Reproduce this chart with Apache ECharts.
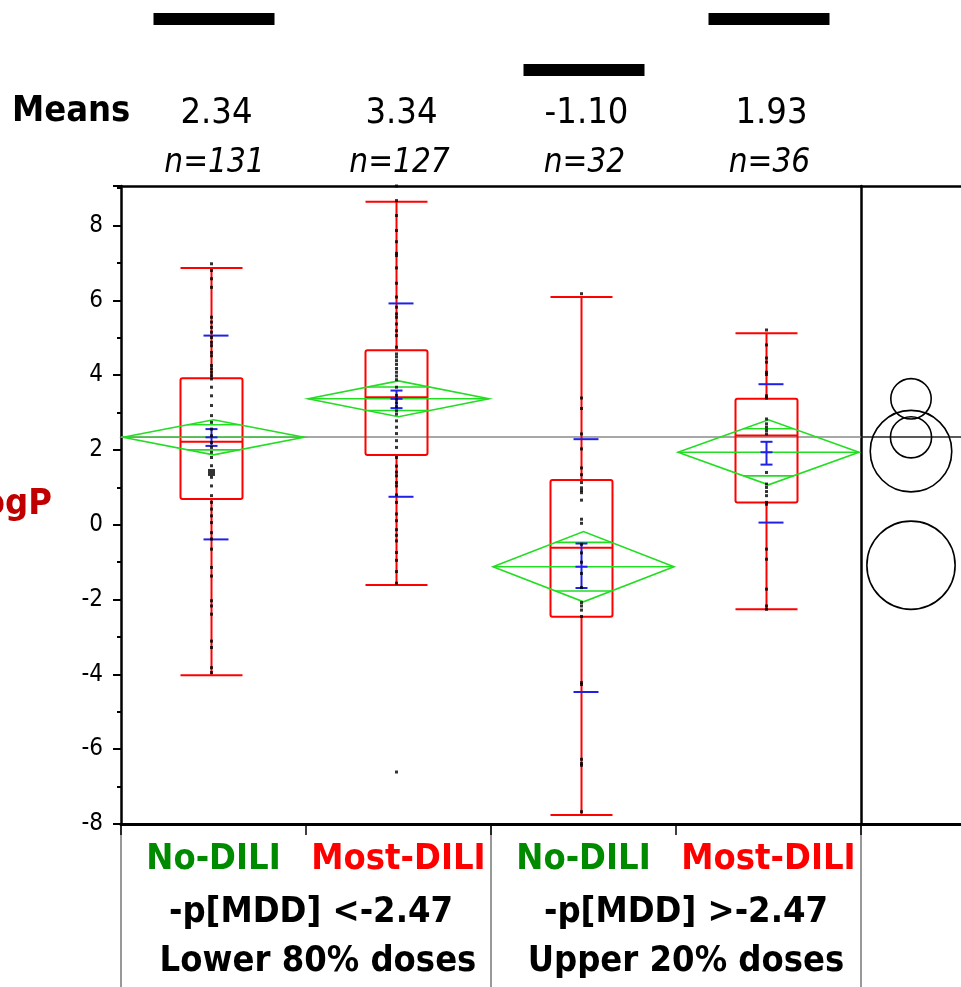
<!DOCTYPE html>
<html><head><meta charset="utf-8">
<script src="https://cdn.jsdelivr.net/npm/echarts@6/dist/echarts.min.js"></script>
<style>html,body{margin:0;padding:0;background:#fff;}#c{width:961px;height:987px;}</style>
</head><body><div id="c"></div>
<script>
// ---------- data ----------
const categories = ['No-DILI', 'Most-DILI', 'No-DILI', 'Most-DILI'];
const meanLabels = ['2.34', '3.34', '-1.10', '1.93'];
const nLabels = ['n=131', 'n=127', 'n=32', 'n=36'];
const groupLine1 = ['-p[MDD] <-2.47', '-p[MDD] >-2.47'];
const groupLine2 = ['Lower 80% doses', 'Upper 20% doses'];
const yTickValues = [-8, -6, -4, -2, 0, 2, 4, 6, 8];
const yMax = 9.06;

// box plot: [min whisker, Q1, median, Q3, max whisker]
const boxStats = [
  [-4.02, 0.69, 2.22, 3.92, 6.87],
  [-1.61, 1.87, 3.41, 4.67, 8.64],
  [-7.76, -2.46, -0.61, 1.20, 6.09],
  [-2.26, 0.60, 2.39, 3.37, 5.12]
];
// means diamonds: mean, 95% CI half width, overlap mark half distance
const diamondMean = [2.34, 3.37, -1.12, 1.94];
const diamondCI = [0.47, 0.48, 0.94, 0.87];
const overlapMark = [0.335, 0.315, 0.65, 0.63];
// blue: mean error bars (SE) and std dev lines
const seLow = [2.11, 3.12, -1.69, 1.61];
const seHigh = [2.56, 3.59, -0.50, 2.22];
const sdLow = [-0.39, 0.75, -4.47, 0.06];
const sdHigh = [5.06, 5.92, 2.29, 3.76];
const grandMean = 2.35;
// comparison circles: centre and radius (logP units)
const circleCenter = [2.34, 3.37, -1.08, 1.97];
const circleRadius = [0.55, 0.54, 1.18, 1.09];
// significance bars above the plot: [category index, level]
const sigBars = [[0, 0], [2, 1], [3, 0]];

// individual points
const pts1 = [6.98, 6.80, 6.58, 6.35, 5.55, 5.42, 5.28, 5.15, 5.01, 4.88, 4.79, 4.61, 4.52, 4.26, 4.17, 4.08, 3.99, 3.90, 3.68, 3.45, 3.19, 2.92, 2.74, 2.56, 2.38, 2.20, 2.07, 1.94, 1.80, 1.58, 1.27, 1.04, 0.78, 0.60, 0.42, 0.24, 0.06, -0.21, -0.38, -0.65, -1.14, -1.37, -2.03, -2.17, -2.39, -3.11, -3.28, -3.82, -3.95];
const heavyPts1 = [1.40];
const pts2 = [9.06, 8.67, 8.27, 7.87, 7.57, 7.26, 7.20, 6.87, 6.46, 6.09, 5.82, 5.64, 5.55, 5.37, 5.19, 5.06, 4.75, 4.57, 4.49, 4.39, 4.29, 4.18, 4.08, 3.98, 3.88, 3.68, 3.46, 3.36, 3.26, 3.16, 3.05, 2.96, 2.78, 2.61, 2.44, 2.25, 2.07, 1.80, 1.57, 1.41, 1.31, 1.13, 1.04, 0.80, 0.60, 0.29, 0.11, -0.13, -0.28, -0.43, -0.74, -0.95, -1.25, -1.56, -6.61];
const pts3 = [6.18, 3.39, 3.11, 2.43, 2.03, 1.52, 1.34, 1.13, 0.99, 0.92, 0.86, 0.66, 0.15, 0.04, -0.52, -0.75, -1.00, -1.30, -1.68, -2.08, -2.17, -2.28, -2.45, -4.22, -4.27, -6.27, -6.38, -6.43, -7.67];
const pts4 = [5.21, 4.81, 4.46, 4.35, 4.08, 4.02, 3.45, 3.39, 2.83, 2.70, 2.61, 2.52, 2.43, 1.40, 1.09, 1.00, 0.89, 0.78, 0.60, 0.55, -0.65, -0.92, -1.72, -2.17, -2.26];

// ---------- layout / style ----------
const FONT = '"DejaVu Sans Condensed","DejaVu Sans",sans-serif';
const GL = 121, GT = 186, GW = 740, GH = 638, PW = 100;
const RED = '#ff0000', GREEN = '#22dd22', BLUE = '#2020e6';

const allPts = [pts1, pts2, pts3, pts4];
const pointData = [];
allPts.forEach((arr, i) => arr.forEach(v => pointData.push([i, v])));

const chart = echarts.init(document.getElementById('c'));

function renderBox(params, api) {
  const i = api.value(0);
  const c = v => api.coord([i, v]);
  const xc = c(0)[0] - 2, hw = 31;
  const yMin = c(api.value(1))[1], yQ1 = c(api.value(2))[1], yMed = c(api.value(3))[1],
        yQ3 = c(api.value(4))[1], yMx = c(api.value(5))[1];
  const st = { stroke: RED, lineWidth: 2 };
  return { type: 'group', children: [
    { type: 'rect', shape: { x: xc - hw, y: yQ3, width: 2 * hw, height: yQ1 - yQ3, r: 2 }, style: { stroke: RED, fill: 'none', lineWidth: 2 } },
    { type: 'line', shape: { x1: xc - hw, y1: yMed, x2: xc + hw, y2: yMed }, style: st },
    { type: 'line', shape: { x1: xc, y1: yQ3, x2: xc, y2: yMx }, style: st },
    { type: 'line', shape: { x1: xc, y1: yQ1, x2: xc, y2: yMin }, style: st },
    { type: 'line', shape: { x1: xc - hw, y1: yMx, x2: xc + hw, y2: yMx }, style: st },
    { type: 'line', shape: { x1: xc - hw, y1: yMin, x2: xc + hw, y2: yMin }, style: st }
  ]};
}

function renderDiamond(params, api) {
  const i = api.value(0), m = api.value(1), ci = api.value(2), ov = api.value(3);
  const xc = api.coord([i, m])[0];
  const hw = api.size([1, 0])[0] / 2 - 2;
  const y = v => api.coord([i, v])[1];
  const yM = y(m), yT = y(m + ci), yB = y(m - ci);
  const ow = hw * (1 - ov / ci);
  const st = { stroke: GREEN, lineWidth: 1.6 };
  return { type: 'group', children: [
    { type: 'polygon', shape: { points: [[xc - hw, yM], [xc, yT], [xc + hw, yM], [xc, yB]] }, style: { stroke: GREEN, fill: 'none', lineWidth: 1.6 } },
    { type: 'line', shape: { x1: xc - hw, y1: yM, x2: xc + hw, y2: yM }, style: st },
    { type: 'line', shape: { x1: xc - ow, y1: y(m + ov), x2: xc + ow, y2: y(m + ov) }, style: st },
    { type: 'line', shape: { x1: xc - ow, y1: y(m - ov), x2: xc + ow, y2: y(m - ov) }, style: st }
  ]};
}

function renderBlue(params, api) {
  const i = api.value(0);
  const y = v => api.coord([i, api.value(v)])[1];
  const xc = api.coord([i, 0])[0] - 2;
  const st = { stroke: BLUE, lineWidth: 2 };
  const yM = y(1), ySL = y(2), ySH = y(3), yDL = y(4), yDH = y(5);
  return { type: 'group', children: [
    { type: 'line', shape: { x1: xc, y1: ySL, x2: xc, y2: ySH }, style: st },
    { type: 'line', shape: { x1: xc - 6, y1: ySL, x2: xc + 6, y2: ySL }, style: st },
    { type: 'line', shape: { x1: xc - 6, y1: ySH, x2: xc + 6, y2: ySH }, style: st },
    { type: 'line', shape: { x1: xc - 6, y1: yM, x2: xc + 6, y2: yM }, style: st },
    { type: 'line', shape: { x1: xc - 8, y1: yDL, x2: xc + 17, y2: yDL }, style: st },
    { type: 'line', shape: { x1: xc - 8, y1: yDH, x2: xc + 17, y2: yDH }, style: st }
  ]};
}

function renderMeanLine(color) {
  return function (params, api) {
    const y = api.coord([0, api.value(1)])[1];
    const cs = params.coordSys;
    return { type: 'line', shape: { x1: cs.x, y1: y, x2: cs.x + cs.width, y2: y }, style: { stroke: color, lineWidth: 1.5 } };
  };
}

function renderCircle(params, api) {
  const p = api.coord([0.5, api.value(1)]);
  const r = api.size([0, api.value(2)])[1];
  return { type: 'circle', shape: { cx: p[0], cy: p[1], r: r }, style: { stroke: '#000', fill: 'none', lineWidth: 1.6 } };
}

function renderHeader(params, api) {
  const i = api.value(0);
  const xc = api.coord([i, 0])[0];
  return { type: 'group', children: [
    { type: 'text', style: { text: meanLabels[i], x: xc + 3, y: 114, align: 'center', verticalAlign: 'middle', fontSize: 36, fontFamily: FONT, fill: '#000' } },
    { type: 'text', style: { text: nLabels[i], x: xc + 1, y: 163, align: 'center', verticalAlign: 'middle', fontSize: 33, fontStyle: 'italic', fontFamily: FONT, fill: '#000' } }
  ]};
}

function renderSig(params, api) {
  const i = api.value(0), lvl = api.value(1);
  const xc = api.coord([i, 0])[0];
  return { type: 'rect', shape: { x: xc - 60, y: 13 + lvl * 51, width: 121, height: 12 }, style: { fill: '#000' } };
}

const option = {
  animation: false,
  backgroundColor: '#fff',
  grid: [
    { left: GL, top: GT, width: GW, height: GH, containLabel: false, outerBoundsMode: 'none' },
    { left: GL + GW, top: GT, width: PW, height: GH, containLabel: false, outerBoundsMode: 'none' }
  ],
  xAxis: [
    { gridIndex: 0, type: 'category', data: categories, position: 'bottom', boundaryGap: true,
      axisLine: { show: true, onZero: false, lineStyle: { color: '#000', width: 3 } },
      axisTick: { show: true, length: 11, lineStyle: { color: '#000', width: 1.5 } },
      axisLabel: { margin: 18, interval: 0,
        formatter: (v, i) => (i % 2 === 0 ? '{g|' + v + '}' : '{r|' + v + '}'),
        rich: {
          g: { color: '#008a00', fontSize: 36, fontWeight: 'bold', fontFamily: FONT },
          r: { color: '#ff0000', fontSize: 36, fontWeight: 'bold', fontFamily: FONT }
        } },
      splitLine: { show: false } },
    { gridIndex: 0, type: 'category', data: categories, position: 'top',
      axisLine: { show: true, onZero: false, lineStyle: { color: '#000', width: 2.5 } },
      axisTick: { show: false }, axisLabel: { show: false }, splitLine: { show: false } },
    { gridIndex: 1, type: 'value', min: 0, max: 1, position: 'bottom',
      axisLine: { show: true, onZero: false, lineStyle: { color: '#000', width: 3 } },
      axisTick: { show: false }, axisLabel: { show: false }, splitLine: { show: false } },
    { gridIndex: 1, type: 'value', min: 0, max: 1, position: 'top',
      axisLine: { show: true, onZero: false, lineStyle: { color: '#000', width: 2.5 } },
      axisTick: { show: false }, axisLabel: { show: false }, splitLine: { show: false } }
  ],
  yAxis: [
    { gridIndex: 0, type: 'value', min: yTickValues[0], max: yMax, interval: 2,
      name: 'logP', nameLocation: 'middle', nameRotate: 0, nameGap: 69,
      nameTextStyle: { color: '#c00000', fontSize: 36, fontWeight: 'bold', fontFamily: FONT },
      axisLine: { show: true, onZero: false, lineStyle: { color: '#000', width: 2.5 } },
      axisTick: { show: true, length: 8, lineStyle: { color: '#000', width: 2 } },
      minorTick: { show: true, splitNumber: 2, length: 4, lineStyle: { color: '#000', width: 2 } },
      axisLabel: { margin: 18, fontSize: 24, color: '#000', fontFamily: FONT, showMaxLabel: false,
        formatter: v => (yTickValues.indexOf(v) >= 0 ? String(v) : '') },
      splitLine: { show: false } },
    { gridIndex: 1, type: 'value', min: yTickValues[0], max: yMax, position: 'left',
      axisLine: { show: true, onZero: false, lineStyle: { color: '#000', width: 2.5 } },
      axisTick: { show: false }, axisLabel: { show: false }, splitLine: { show: false } }
  ],
  series: [
    { type: 'custom', xAxisIndex: 0, yAxisIndex: 0, renderItem: renderMeanLine('#8a8a8a'), data: [[0, grandMean]], silent: true, z: 1 },
    { type: 'custom', xAxisIndex: 2, yAxisIndex: 1, renderItem: renderMeanLine('#222'), data: [[0, grandMean]], silent: true, z: 1 },
    { type: 'custom', xAxisIndex: 0, yAxisIndex: 0, renderItem: renderBox, silent: true, z: 2,
      data: boxStats.map((b, i) => [i].concat(b)) },
    { type: 'custom', xAxisIndex: 0, yAxisIndex: 0, renderItem: renderDiamond, silent: true, z: 3,
      data: diamondMean.map((m, i) => [i, m, diamondCI[i], overlapMark[i]]) },
    { type: 'custom', xAxisIndex: 0, yAxisIndex: 0, renderItem: renderBlue, silent: true, z: 4,
      data: diamondMean.map((m, i) => [i, m, seLow[i], seHigh[i], sdLow[i], sdHigh[i]]) },
    { type: 'scatter', xAxisIndex: 0, yAxisIndex: 0, data: pointData, symbol: 'rect', symbolSize: [3, 3],
      symbolOffset: [-2, 0], itemStyle: { color: '#000' }, silent: true, z: 5, clip: false },
    { type: 'scatter', xAxisIndex: 0, yAxisIndex: 0, data: heavyPts1.map(v => [0, v]), symbol: 'rect', symbolSize: [7, 7],
      symbolOffset: [-2, 0], itemStyle: { color: '#000' }, silent: true, z: 5 },
    { type: 'custom', xAxisIndex: 2, yAxisIndex: 1, renderItem: renderCircle, silent: true, z: 3,
      data: circleCenter.map((c, i) => [0.5, c, circleRadius[i]]) },
    { type: 'custom', xAxisIndex: 0, yAxisIndex: 0, renderItem: renderHeader, silent: true, clip: false,
      data: categories.map((c, i) => [i, 0]) },
    { type: 'custom', xAxisIndex: 0, yAxisIndex: 0, renderItem: renderSig, silent: true, clip: false,
      data: sigBars }
  ],
  graphic: [
    { type: 'text', left: 12, top: 94, style: { text: 'Means', fontSize: 36, fontWeight: 'bold', fontFamily: FONT, fill: '#000' } },
    { type: 'line', shape: { x1: GL, y1: GT + GH, x2: GL, y2: 987 }, style: { stroke: '#333', lineWidth: 1 } },
    { type: 'line', shape: { x1: GL + GW / 2, y1: GT + GH, x2: GL + GW / 2, y2: 987 }, style: { stroke: '#333', lineWidth: 1 } },
    { type: 'line', shape: { x1: GL + GW, y1: GT + GH, x2: GL + GW, y2: 987 }, style: { stroke: '#333', lineWidth: 1 } },
    { type: 'text', style: { text: groupLine1[0], x: 311, y: 913, align: 'center', verticalAlign: 'middle', fontSize: 36, fontWeight: 'bold', fontFamily: FONT, fill: '#000' } },
    { type: 'text', style: { text: groupLine2[0], x: 318, y: 962, align: 'center', verticalAlign: 'middle', fontSize: 36, fontWeight: 'bold', fontFamily: FONT, fill: '#000' } },
    { type: 'text', style: { text: groupLine1[1], x: 686, y: 913, align: 'center', verticalAlign: 'middle', fontSize: 36, fontWeight: 'bold', fontFamily: FONT, fill: '#000' } },
    { type: 'text', style: { text: groupLine2[1], x: 686, y: 962, align: 'center', verticalAlign: 'middle', fontSize: 36, fontWeight: 'bold', fontFamily: FONT, fill: '#000' } }
  ]
};
chart.setOption(option);
</script>
</body></html>
